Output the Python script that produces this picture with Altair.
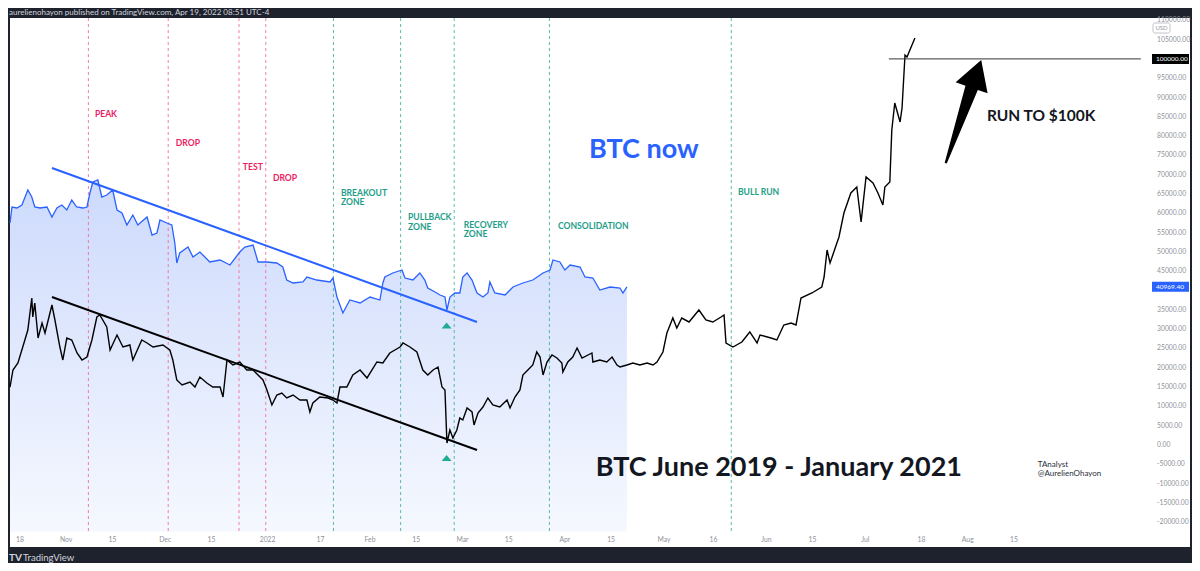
import altair as alt
import pandas as pd

START = pd.Timestamp("2021-10-18")

# ---- BTC now (blue), day offset from 2021-10-18 and price in USD ----
blue_day = [-3.0, -2.4, -0.9, 0.6, 2.4, 3.6, 4.5, 6.1, 8.2, 9.7,
            11.2, 12.7, 14.2, 15.7, 17.2, 19.1, 20.3, 21.2, 22.1, 23.6,
            24.8, 26.3, 28.1, 29.4, 30.9, 32.4, 34.2, 35.7, 38.5, 40.0,
            41.5, 42.4, 44.5, 46.0, 46.9, 47.5, 48.4, 50.9, 52.4, 54.5,
            57.5, 60.6, 63.6, 66.6, 68.1, 70.6, 72.1, 74.8, 77.8, 79.6,
            80.8, 82.7, 85.7, 86.9, 89.9, 93.9, 94.8, 96.0, 97.8, 99.9,
            103.0, 106.0, 109.0, 109.9, 110.5, 112.9, 115.7, 116.6, 119.0, 121.1,
            122.6, 123.5, 125.7, 127.2, 128.7, 129.3, 130.2, 131.7, 133.2, 134.1,
            135.4, 136.9, 138.4, 140.2, 141.7, 142.3, 143.8, 146.9, 149.3, 152.3,
            155.3, 158.4, 160.5, 161.4, 163.5, 165.0, 166.6, 169.6, 171.1, 173.5,
            175.6, 178.7, 181.7, 182.6, 183.8]
blue_usd = [57500, 61640, 61380, 62160, 66045, 64230, 61640, 61380, 61640, 59050,
            61380, 62160, 60865, 63455, 61640, 61380, 61640, 65270, 68115, 68635,
            64230, 64750, 66045, 60865, 60090, 56980, 59570, 56980, 59050, 54390,
            54910, 58275, 57500, 56980, 52320, 47140, 49730, 51280, 48690, 49990,
            47400, 47915, 46620, 49990, 51280, 51800, 47400, 47400, 47140, 46100,
            42735, 41960, 42220, 43510, 42735, 42220, 43250, 38330, 34190, 37555,
            36780, 38330, 37555, 41960, 43510, 44550, 45325, 43250, 42735, 44550,
            42735, 40660, 39630, 38850, 38330, 34965, 38330, 39370, 39370, 43510,
            44550, 42735, 39370, 38330, 39370, 42220, 39370, 38850, 40920, 41960,
            42735, 44550, 45325, 47915, 47400, 45325, 46620, 46100, 43510, 43250,
            40145, 40920, 40660, 39370, 40969.4]

# ---- BTC June 2019 - January 2021 overlay (black) ----
black_day = [-3.0, -2.1, -0.6, 1.5, 2.4, 3.6, 3.9, 4.5, 5.5, 6.7,
             7.6, 9.7, 10.6, 12.1, 13.0, 14.2, 15.7, 17.3, 18.8, 20.3,
             21.8, 23.3, 24.2, 26.3, 27.3, 29.4, 31.2, 33.3, 34.2, 36.9,
             38.5, 40.3, 43.3, 45.4, 46.3, 47.5, 49.1, 51.5, 53.0, 54.5,
             56.6, 58.4, 60.6, 61.5, 62.7, 64.5, 66.6, 68.7, 70.6, 73.6,
             74.8, 76.3, 77.8, 79.3, 80.8, 82.7, 84.8, 86.9, 87.8, 88.7,
             90.8, 93.3, 94.8, 96.0, 96.9, 99.0, 100.8, 103.0, 105.1, 108.1,
             109.9, 112.0, 115.1, 116.0, 118.1, 120.2, 122.0, 123.5, 125.1, 126.6,
             127.8, 128.7, 129.3, 130.2, 131.1, 132.3, 133.2, 134.1, 135.4, 136.9,
             137.5, 138.7, 140.2, 141.7, 143.2, 145.3, 147.5, 148.4, 149.9, 151.4,
             152.3, 153.8, 155.3, 156.5, 157.5, 158.4, 159.6, 161.1, 162.6, 164.1,
             164.4, 165.9, 167.4, 168.7, 170.2, 173.2, 173.5, 175.6, 177.7, 179.3,
             180.8, 181.7, 183.8, 185.6, 187.7, 189.9, 191.7, 192.9, 194.7, 195.9,
             197.7, 198.9, 200.4, 202.6, 205.6, 207.7, 209.8, 212.3, 213.2, 213.8,
             215.9, 218.6, 221.0, 223.2, 224.1, 227.4, 229.2, 231.3, 233.5, 235.0,
             236.5, 239.8, 242.8, 243.5, 244.4, 245.3, 248.0, 249.5, 251.6, 253.4,
             254.7, 256.2, 258.3, 259.8, 261.3, 261.9, 263.4, 264.0, 264.9, 266.5,
             267.1, 268.0, 268.6, 271.0]
black_usd = [15020, 19425, 21240, 27195, 29785, 38075, 33150, 36780, 27710, 31600,
             29010, 36260, 32375, 25380, 22015, 27710, 27195, 23830, 22015, 22790,
             27195, 33150, 33670, 30560, 24605, 28490, 25380, 25900, 22015, 27195,
             26420, 25380, 25900, 24605, 22015, 16835, 15540, 16315, 15020, 17610,
             16060, 15020, 15020, 12430, 22015, 20720, 21500, 19425, 19425, 16835,
             14245, 10360, 12950, 13470, 12175, 12950, 11655, 11655, 8550, 10880,
             12430, 12175, 11655, 10880, 15020, 15020, 18130, 19425, 17355, 21500,
             21240, 23830, 25380, 26420, 25380, 24090, 19425, 18130, 19425, 20200,
             15020, 14245, 520, 3885, 1815, 3885, 6995, 6475, 9585, 8550,
             5180, 8290, 9840, 12175, 10360, 9840, 11655, 9585, 12430, 14245,
             18130, 19425, 20720, 24090, 22790, 18130, 21500, 23310, 22530, 21240,
             18905, 21500, 22790, 25125, 22530, 23830, 21500, 22015, 21500, 22790,
             20720, 20200, 20720, 21240, 20720, 21240, 20720, 21500, 24090, 29010,
             32890, 30300, 32890, 31860, 34965, 32375, 31860, 33150, 33670, 26420,
             25380, 26680, 29270, 26420, 28490, 27710, 27195, 31080, 31600, 31080,
             38075, 39370, 40920, 43510, 50505, 47140, 53870, 60090, 65270, 66820,
             57760, 69410, 67860, 65270, 62160, 66820, 68115, 81585, 88580, 83660,
             87280, 101010, 100490, 105410]

# ---- drawings ----
trend_day = [9.7, 138.4]
blue_trend_usd = [71743, 31857]
black_trend_usd = [38332, -1295]

bear_day = [20.74, 44.9, 66.34, 74.43]
bull_day = [94.93, 115.28, 131.5, 160.33, 215.4]

bear_label_text = ["PEAK", "DROP", "TEST", "DROP"]
bear_label_day = [22.7, 47.2, 67.5, 76.6]
bear_label_usd = [85729, 78218, 72002, 69153]

bull_label_text = ["BREAKOUT", "ZONE", "PULLBACK", "ZONE", "RECOVERY", "ZONE",
                   "CONSOLIDATION", "BULL RUN"]
bull_label_day = [97.2, 97.2, 117.5, 117.5, 134.4, 134.4, 162.9, 217.4]
bull_label_usd = [65268, 62937, 59052, 56462, 56980, 54649, 56721, 65527]

signal_day = [129.2, 129.2]
signal_usd = [30950, -3367]

target_usd = [100000]
target_day = [263.1, 339.4]
arrow_day = [285.7]
arrow_usd = [86376]

big_text = ["BTC now", "BTC June 2019 - January 2021"]
big_day = [188.9, 229.8]
big_usd = [76405, -5957]

note_text = ["RUN TO $100K"]
note_day = [292.8]
note_usd = [85211]

sign_text = ["TAnalyst", "@AurelienOhayon"]
sign_day = [308.2, 308.2]
sign_usd = [-5180, -7511]

price_labels = ["100000.00", "40969.40"]
price_label_usd = [100000, 40969.4]

# ---- axis ticks ----
tick_dates = ["2021-10-18", "2021-11-01", "2021-11-15", "2021-12-01", "2021-12-15",
              "2022-01-01", "2022-01-17", "2022-02-01", "2022-02-15", "2022-03-01",
              "2022-03-15", "2022-04-01", "2022-04-15", "2022-05-01", "2022-05-16",
              "2022-06-01", "2022-06-15", "2022-07-01", "2022-07-18", "2022-08-01",
              "2022-08-15"]
tick_labels = ["18", "Nov", "15", "Dec", "15", "2022", "17", "Feb", "15", "Mar",
               "15", "Apr", "15", "May", "16", "Jun", "15", "Jul", "18", "Aug", "15"]
price_ticks = [-20000, -15000, -10000, -5000, 0, 5000, 10000, 15000, 20000, 25000,
               30000, 35000, 45000, 50000, 55000, 60000, 65000, 70000, 75000,
               80000, 85000, 90000, 95000, 105000, 110000]

header_text = "aurelienohayon published on TradingView.com, Apr 19, 2022 08:51 UTC-4"

FONT = "Lato"
BLUE = "#2962ff"
PINK = "#e91e63"
TEAL = "#1e9e88"
AXIS_GRAY = "#8f929b"


def to_dates(days):
    return [START + pd.Timedelta(days=d) for d in days]


xs = alt.Scale(domain=[alt.DateTime(year=2021, month=10, date=15),
                       alt.DateTime(year=2022, month=10, date=7, hours=7)])
ys = alt.Scale(domain=[-26418, 110593], nice=False, zero=False)


def X(field="date:T"):
    return alt.X(field, scale=xs, axis=None)


def Y(field="usd:Q"):
    return alt.Y(field, scale=ys, axis=None)


blue_df = pd.DataFrame({"date": to_dates(blue_day), "usd": blue_usd})
black_df = pd.DataFrame({"date": to_dates(black_day), "usd": black_usd})

area = alt.Chart(blue_df).mark_area(
    color=alt.Gradient(gradient="linear",
                       stops=[alt.GradientStop(color="#cddafc", offset=0),
                              alt.GradientStop(color="#f5f8fe", offset=1)],
                       x1=1, x2=1, y1=0, y2=1),
).encode(x=X(), y=Y(), y2=alt.datum(-22500))

bear_rules = alt.Chart(pd.DataFrame({"date": to_dates(bear_day)})).mark_rule(
    color="#f06b95", strokeDash=[3, 3], strokeWidth=1, opacity=0.85
).encode(x=X(), y=alt.Y(datum=110593, scale=ys, axis=None), y2=alt.datum(-22500))
bull_rules = alt.Chart(pd.DataFrame({"date": to_dates(bull_day)})).mark_rule(
    color="#3fae9f", strokeDash=[3, 3], strokeWidth=1, opacity=0.85
).encode(x=X(), y=alt.Y(datum=110593, scale=ys, axis=None), y2=alt.datum(-22500))

blue_line = alt.Chart(blue_df).mark_line(color=BLUE, strokeWidth=1.3).encode(x=X(), y=Y())
black_line = alt.Chart(black_df).mark_line(color="black", strokeWidth=1.4).encode(x=X(), y=Y())

blue_trend = alt.Chart(pd.DataFrame({"date": to_dates(trend_day), "usd": blue_trend_usd})).mark_line(
    color=BLUE, strokeWidth=2).encode(x=X(), y=Y())
black_trend = alt.Chart(pd.DataFrame({"date": to_dates(trend_day), "usd": black_trend_usd})).mark_line(
    color="black", strokeWidth=2).encode(x=X(), y=Y())

bear_labels = alt.Chart(pd.DataFrame({"date": to_dates(bear_label_day), "usd": bear_label_usd,
                                      "t": bear_label_text})).mark_text(
    align="left", baseline="middle", font=FONT, fontSize=8.6, fontWeight="bold", color=PINK
).encode(x=X(), y=Y(), text="t:N")
bull_labels = alt.Chart(pd.DataFrame({"date": to_dates(bull_label_day), "usd": bull_label_usd,
                                      "t": bull_label_text})).mark_text(
    align="left", baseline="middle", font=FONT, fontSize=8.6, fontWeight="bold", color=TEAL
).encode(x=X(), y=Y(), text="t:N")

signals = alt.Chart(pd.DataFrame({"date": to_dates(signal_day), "usd": signal_usd})).mark_point(
    shape="M -1 0.6 L 0 -0.6 L 1 0.6 Z", size=100, filled=True, color="#22ab94", opacity=1
).encode(x=X(), y=Y())

big_df = pd.DataFrame({"date": to_dates(big_day), "usd": big_usd, "t": big_text,
                       "c": ["now", "past"]})
big_labels = alt.Chart(big_df).mark_text(
    align="center", baseline="middle", font=FONT, fontSize=27, fontWeight="bold"
).encode(x=X(), y=Y(), text="t:N",
         color=alt.Color("c:N", scale=alt.Scale(domain=["now", "past"], range=[BLUE, "#131722"]),
                         legend=None))

note = alt.Chart(pd.DataFrame({"date": to_dates(note_day), "usd": note_usd, "t": note_text})).mark_text(
    align="left", baseline="middle", font=FONT, fontSize=15.5, fontWeight="bold", color="#131722"
).encode(x=X(), y=Y(), text="t:N")

sign = alt.Chart(pd.DataFrame({"date": to_dates(sign_day), "usd": sign_usd, "t": sign_text})).mark_text(
    align="left", baseline="middle", font=FONT, fontSize=8, color="#2a2e39"
).encode(x=X(), y=Y(), text="t:N")

target = alt.Chart(pd.DataFrame({"date": [to_dates(target_day)[0]], "date2": [to_dates(target_day)[1]],
                                 "usd": target_usd})).mark_rule(
    color="#333333", strokeWidth=1
).encode(x=X(), x2="date2:T", y=Y())

arrow = alt.Chart(pd.DataFrame({"date": to_dates(arrow_day), "usd": arrow_usd})).mark_point(
    shape="M 0 -1 L 0.31 -0.46 L 0.12 -0.46 L 0.02 1 L -0.02 1 L -0.12 -0.46 L -0.31 -0.46 Z",
    size=11881, angle=19, filled=True, color="black", opacity=1, strokeWidth=0
).encode(x=X(), y=Y())

# time-axis labels (drawn inside the white pane, like TradingView)
time_axis = alt.Chart(pd.DataFrame({"date": pd.to_datetime(tick_dates), "t": tick_labels})).mark_text(
    align="center", baseline="middle", font=FONT, fontSize=6.8, color=AXIS_GRAY
).encode(x=X(), y=alt.value(522), text="t:N")

# price-scale labels
price_axis = alt.Chart(pd.DataFrame({"usd": price_ticks,
                                     "t": ["%.2f" % v for v in price_ticks]})).mark_text(
    align="left", baseline="middle", font=FONT, fontSize=6.8, color=AXIS_GRAY
).encode(x=alt.value(1147), y=Y(), text="t:N")

box_df = pd.DataFrame({"usd": price_label_usd, "t": price_labels, "k": ["target", "last"]})
boxes = alt.Chart(box_df).transform_calculate(
    top="datum.usd + 1300", bot="datum.usd - 1300"
).mark_rect().encode(
    x=alt.value(1142), x2=alt.value(1179),
    y=alt.Y("top:Q", scale=ys, axis=None), y2="bot:Q",
    color=alt.Color("k:N", scale=alt.Scale(domain=["target", "last"], range=["#000000", BLUE]),
                    legend=None),
)
box_text = alt.Chart(box_df).mark_text(
    align="left", baseline="middle", font=FONT, fontSize=6.5, color="white"
).encode(x=alt.value(1146), y=Y(), text="t:N")

usd_box = alt.Chart(pd.DataFrame({"t": ["USD"]})).mark_rect(
    fill="white", stroke="#b2b5be", strokeWidth=0.8, cornerRadius=2
).encode(x=alt.value(1143), x2=alt.value(1160), y=alt.value(5), y2=alt.value(15))
usd_text = alt.Chart(pd.DataFrame({"t": ["USD"]})).mark_text(
    align="center", baseline="middle", font=FONT, fontSize=6, color="#9598a1"
).encode(x=alt.value(1151.5), y=alt.value(10), text="t:N")

header = alt.Chart(pd.DataFrame({"t": [header_text]})).mark_text(
    align="left", baseline="middle", font=FONT, fontSize=8, color="#d1d4dc"
).encode(x=alt.value(-1), y=alt.value(-5), text="t:N")
logo = alt.Chart(pd.DataFrame({"t": ["TV"]})).mark_text(
    align="left", baseline="middle", font=FONT, fontSize=10, fontWeight="bold", color="#d1d4dc"
).encode(x=alt.value(-1), y=alt.value(540), text="t:N")
logo_text = alt.Chart(pd.DataFrame({"t": ["TradingView"]})).mark_text(
    align="left", baseline="middle", font=FONT, fontSize=9.5, color="#d1d4dc"
).encode(x=alt.value(13), y=alt.value(540), text="t:N")

chart = alt.layer(
    area, bear_rules, bull_rules, blue_line, black_line, blue_trend, black_trend,
    bear_labels, bull_labels, signals, big_labels, note, sign, target, arrow,
    time_axis, price_axis, usd_box, usd_text, boxes, box_text, header, logo, logo_text,
).properties(
    width=1180, height=529,
    background="#1e222d",
    padding={"left": 2, "top": 10, "right": 2, "bottom": 16},
    autosize=alt.AutoSizeParams(type="none"),
).resolve_scale(color="independent").configure_view(fill="white", stroke=None)

chart.save("out.html", embed_options={"renderer": "svg", "actions": False})
